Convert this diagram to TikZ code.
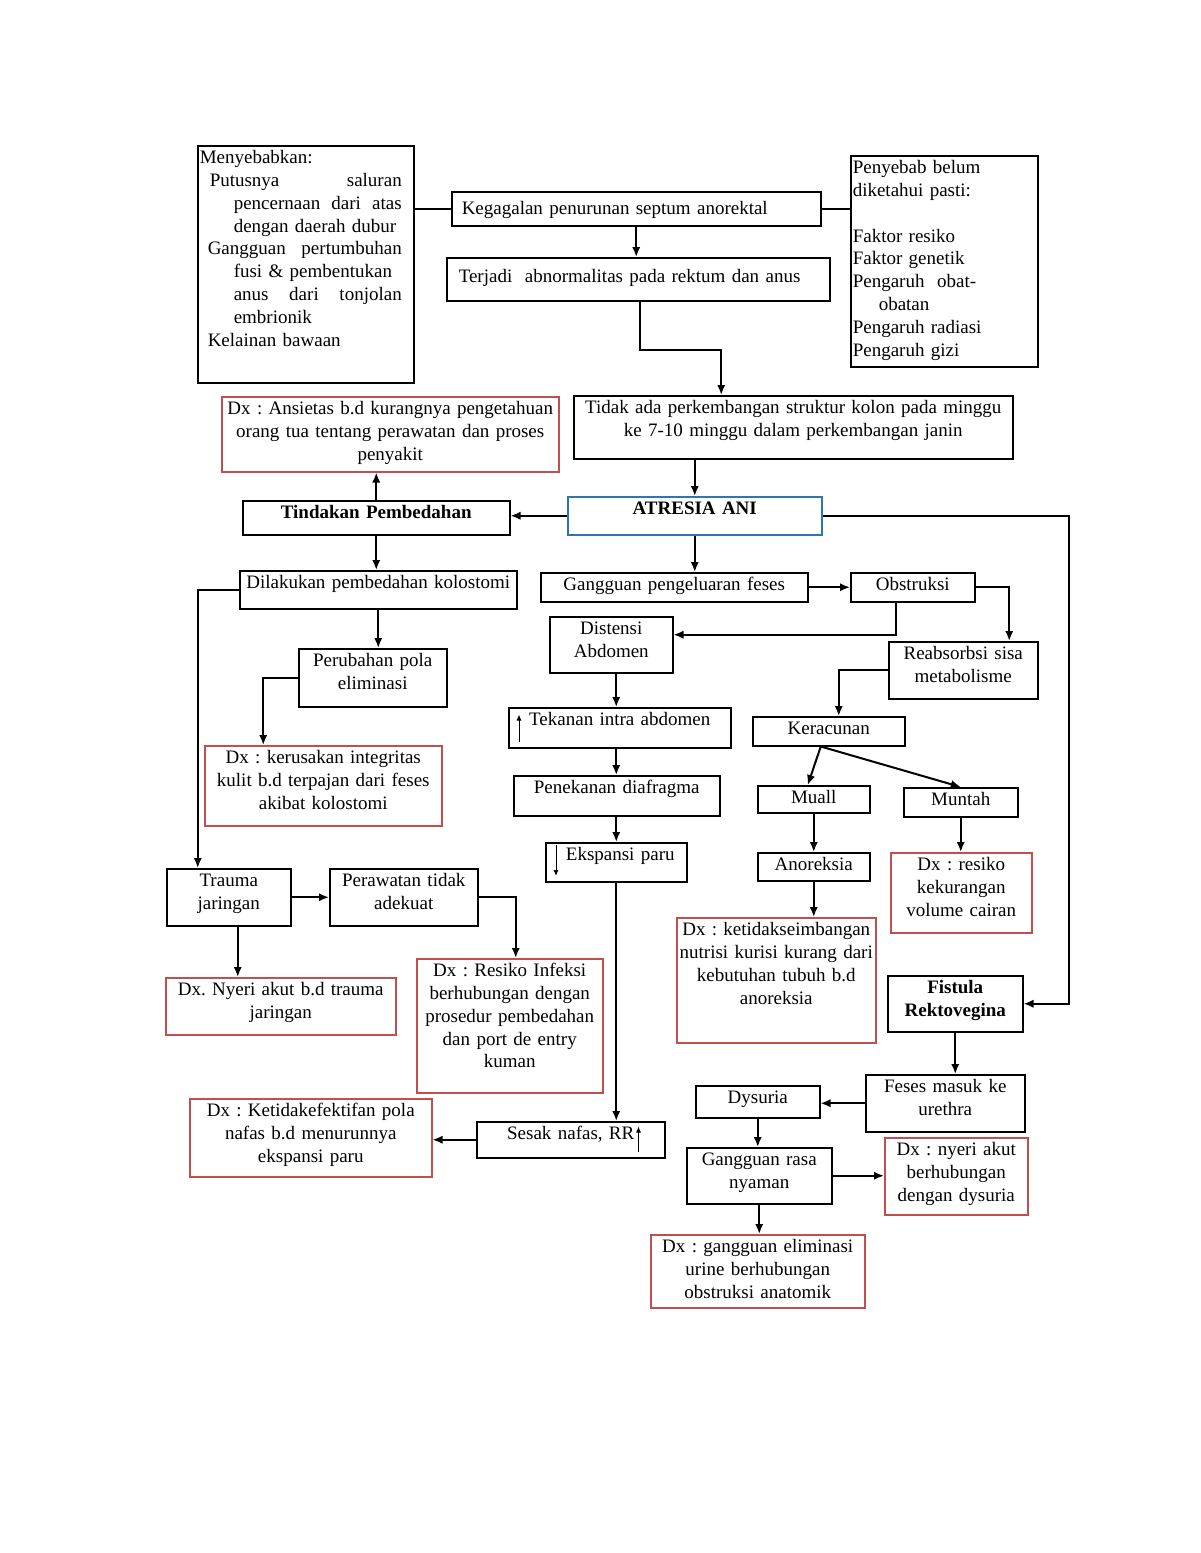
\documentclass[tikz,border=0pt]{standalone}
\usepackage{fontspec}
\setmainfont{Liberation Serif}
\usetikzlibrary{arrows.meta}
\definecolor{dxred}{RGB}{192,80,77}
\definecolor{atblue}{RGB}{46,117,182}

\tikzset{
  box/.style={draw, line width=0.75pt, inner xsep=1pt, inner ysep=2pt,
    text height=7pt, anchor=north west, align=center,
    font=\fontsize{9.5pt}{11.4pt}\selectfont\frenchspacing},
  bx/.code 2 args={\pgfmathsetlengthmacro\bxwd{#1*0.5pt-2pt}%
    \pgfmathsetlengthmacro\bxdp{#2*0.5pt-11pt}%
    \tikzset{box, text width=\bxwd, text depth=\bxdp}},
  dx/.style={draw=dxred},
  bold/.style={font=\fontsize{9.5pt}{11.4pt}\selectfont\bfseries},
  arr/.style={-{Latex[length=5pt,width=4.2pt]}, line width=1pt},
  line/.style={line width=1pt},
  tick/.style={-{Latex[length=3pt,width=2.5pt]}, line width=0.5pt},
}

\begin{document}
\begin{tikzpicture}[x=0.5pt, y=-0.5pt]
\useasboundingbox (0,0) rectangle (1200,1553);

% top part
\node[bx={216}{237}, align=left] (menyebab) at (197,145) {Menyebabkan:\\
\hspace*{5pt}Putusnya\hfill saluran\kern5pt\\
\hspace*{17pt}pencernaan\hfill dari\hfill atas\kern5pt\\
\hspace*{17pt}dengan daerah dubur\\
\hspace*{4pt}Gangguan\hfill pertumbuhan\kern5pt\\
\hspace*{17pt}fusi \& pembentukan\\
\hspace*{17pt}anus\hfill dari\hfill tonjolan\kern5pt\\
\hspace*{17pt}embrionik\\
\hspace*{4pt}Kelainan bawaan};
\node[bx={369}{34}, align=left, text height=9.5pt, text depth=3.5pt] (kegagalan) at (451,191) {\hspace*{4pt}Kegagalan penurunan septum anorektal};
\node[bx={187}{211}, align=left] (penyebab) at (850,155) {Penyebab belum\\ diketahui pasti:\\ ~\\
Faktor resiko\\ Faktor genetik\\ Pengaruh~~obat-\\ \hspace*{13pt}obatan\\ Pengaruh radiasi\\ Pengaruh gizi};
\node[bx={383}{43}, align=left, text height=10.5pt, text depth=7pt] (terjadi) at (446,257) {\hspace*{5pt}Terjadi~~abnormalitas pada rektum dan anus};
\node[bx={439}{63}] (tidak) at (573,395) {Tidak ada perkembangan struktur kolon pada minggu\\ ke 7-10 minggu dalam perkembangan janin};
\node[bx={337}{75}, dx] (dxansietas) at (221,396) {Dx : Ansietas b.d kurangnya pengetahuan\\ orang tua tentang perawatan dan proses\\ penyakit};
\node[bx={254}{38}, draw=atblue, bold] (atresia) at (567,496) {ATRESIA ANI};
\node[bx={267}{34}, bold] (tindakan) at (242,500) {Tindakan Pembedahan};

% right branch
\node[bx={277}{38}] (dilakukan) at (239,570) {Dilakukan pembedahan kolostomi};
\node[bx={267}{29}] (gpengeluaran) at (540,572) {Gangguan pengeluaran feses};
\node[bx={124}{29}] (obstruksi) at (850,572) {Obstruksi};
\node[bx={123}{56}] (distensi) at (549,616) {Distensi\\ Abdomen};
\node[bx={149}{57}] (reabsorbsi) at (888,641) {Reabsorbsi sisa\\ metabolisme};
\node[bx={152}{29}] (keracunan) at (752,716) {Keracunan};
\node[bx={112}{27}] (muall) at (757,785) {Muall};
\node[bx={114}{29}] (muntah) at (903,787) {Muntah};
\node[bx={112}{28}] (anoreksia) at (757,852) {Anoreksia};
\node[bx={199}{125}, dx] (dxnutrisi) at (676,917) {Dx : ketidakseimbangan\\ nutrisi kurisi kurang dari\\ kebutuhan tubuh b.d\\ anoreksia};
\node[bx={141}{80}, dx] (dxcairan) at (890,852) {Dx : resiko\\ kekurangan\\ volume cairan};
\node[bx={135}{56}, bold] (fistula) at (887,975) {Fistula\\ Rektovegina};
\node[bx={159}{57}] (feses) at (865,1074) {Feses masuk ke\\ urethra};
\node[bx={124}{32}] (dysuria) at (695,1085) {Dysuria};
\node[bx={145}{56}] (gangguanrasa) at (686,1147) {Gangguan rasa\\ nyaman};
\node[bx={143}{77}, dx] (dxnyeriakut) at (884,1137) {Dx : nyeri akut\\ berhubungan\\ dengan dysuria};
\node[bx={214}{73}, dx] (dxeliminasi) at (650,1234) {Dx : gangguan eliminasi\\ urine berhubungan\\ obstruksi anatomik};

% left branch
\node[bx={148}{58}] (perubahan) at (298,648) {Perubahan pola\\ eliminasi};
\node[bx={237}{80}, dx] (dxkulit) at (204,745) {Dx : kerusakan integritas\\ kulit b.d terpajan dari feses\\ akibat kolostomi};
\node[bx={124}{57}] (trauma) at (166,868) {Trauma\\ jaringan};
\node[bx={148}{57}] (perawatan) at (329,868) {Perawatan tidak\\ adekuat};
\node[bx={186}{134}, dx] (dxinfeksi) at (416,958) {Dx : Resiko Infeksi\\ berhubungan dengan\\ prosedur pembedahan\\ dan port de entry\\ kuman};
\node[bx={230}{57}, dx] (dxnyeri) at (165,977) {Dx. Nyeri akut b.d trauma\\ jaringan};

% middle column
\node[bx={222}{40}] (tekanan) at (508,707) {Tekanan intra abdomen};
\node[bx={206}{40}] (penekanan) at (513,775) {Penekanan diafragma};
\node[bx={141}{39}] (ekspansi) at (545,842) {\hspace*{4pt}Ekspansi paru};
\node[bx={188}{36}] (sesak) at (476,1121) {Sesak nafas, RR\hspace*{6pt}};
\node[bx={242}{78}, dx] (dxnafas) at (189,1098) {Dx : Ketidakefektifan pola\\ nafas b.d menurunnya\\ ekspansi paru};

% small arrows in the text
\draw[tick] ([xshift=5.5pt,yshift=3.5pt]tekanan.south west) -- ++(0,-27);
\draw[tick] ([xshift=5.5pt,yshift=-1.5pt]ekspansi.north west) -- ++(0,31);
\draw[tick] ([xshift=-13.5pt,yshift=3.5pt]sesak.south east) -- ++(0,-25);

% connectors
\draw[line] (kegagalan.west -| menyebab.east) -- (kegagalan.west);
\draw[line] (kegagalan.east) -- (kegagalan.east -| penyebab.west);
\draw[arr] (kegagalan.south) -- (kegagalan.south |- terjadi.north);
\draw[arr] ([xshift=1pt]terjadi.south) -- ++(0,48) -| ([xshift=-36pt]tidak.north);
\draw[arr] (tidak.south -| atresia.north) -- (atresia.north);
\draw[arr] (atresia.west) -- (atresia.west -| tindakan.east);
\draw[arr] (tindakan.north) -- (tindakan.north |- dxansietas.south);
\draw[arr] (tindakan.south) -- (tindakan.south |- dilakukan.north);
\draw[arr] (atresia.south) -- (atresia.south |- gpengeluaran.north);
\draw[arr] (gpengeluaran.east) -- (gpengeluaran.east -| obstruksi.west);
\draw[arr] ([xshift=-8.5pt]obstruksi.south) |- ([yshift=5pt]distensi.east);
\draw[arr] (obstruksi.east) -| ([xshift=23pt]reabsorbsi.north);
\draw[arr] (reabsorbsi.west) -| ([xshift=5pt]keracunan.north);
\draw[arr] ([xshift=-4pt]keracunan.south) -- ([xshift=-3pt]muall.north);
\draw[arr] ([xshift=-4pt]keracunan.south) -- (muntah.north);
\draw[arr] (muall.south) -- (anoreksia.north);
\draw[arr] (anoreksia.south) -- (anoreksia.south |- dxnutrisi.north);
\draw[arr] (muntah.south) -- (muntah.south |- dxcairan.north);
\draw[arr] (atresia.east) -| ([xshift=22.5pt]fistula.east) -- (fistula.east);
\draw[arr] (fistula.south) -- (fistula.south |- feses.north);
\draw[arr] (feses.west) -- (feses.west -| dysuria.east);
\draw[arr] (dysuria.south) -- (dysuria.south |- gangguanrasa.north);
\draw[arr] (gangguanrasa.east) -- (gangguanrasa.east -| dxnyeriakut.west);
\draw[arr] (gangguanrasa.south) -- (gangguanrasa.south |- dxeliminasi.north);
\draw[arr] (dilakukan.south) -- (dilakukan.south |- perubahan.north);
\draw[arr] (perubahan.west) -| ([xshift=-30pt]dxkulit.north);
\draw[arr] (dilakukan.west) -| ([xshift=-15.5pt]trauma.north);
\draw[arr] (trauma.east) -- (perawatan.west);
\draw[arr] (perawatan.east) -| ([xshift=3pt]dxinfeksi.north);
\draw[arr] ([xshift=4.5pt]trauma.south) -- ([xshift=4.5pt]trauma.south |- dxnyeri.north);
\draw[arr] (distensi.south -| ekspansi.north) -- (tekanan.north -| ekspansi.north);
\draw[arr] (tekanan.south -| ekspansi.north) -- (penekanan.north -| ekspansi.north);
\draw[arr] (penekanan.south -| ekspansi.north) -- (ekspansi.north);
\draw[arr] (ekspansi.south) -- (ekspansi.south |- sesak.north);
\draw[arr] (sesak.west) -- (sesak.west -| dxnafas.east);

\end{tikzpicture}
\end{document}
